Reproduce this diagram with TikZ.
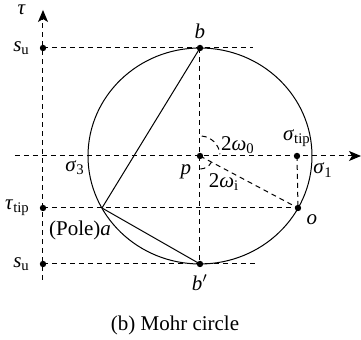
\documentclass[tikz,border=0pt]{standalone}
\usepackage{fontspec}
\setmainfont{Liberation Serif}
\usetikzlibrary{arrows.meta}

\tikzset{
  dot/.style={circle, fill, inner sep=0pt, minimum size=3.2pt},
  guide/.style={dash pattern=on 2.5pt off 2pt, line width=0.5pt},
  axisarrow/.style={guide, -{Stealth[length=6pt, width=5pt, inset=1.5pt]}}
}
\newcommand{\vi}[1]{\textit{#1}}

\begin{document}
\begin{tikzpicture}[x=0.5pt, y=0.5pt, line width=0.5pt, font=\fontsize{10.5}{12.6}\selectfont]
    \useasboundingbox (0,0) rectangle (361,340);

    % points of the Mohr circle
    \coordinate (p) at (200,184);
    \coordinate (b) at (200,292);
    \coordinate (bb) at (200,76);
    \coordinate (a) at (102,132);
    \coordinate (o) at (298,132);
    \coordinate (st) at (297,184);
    \coordinate (su1) at (43,292);
    \coordinate (su2) at (43,76);
    \coordinate (tt) at (43,132);

    % axes
    \coordinate (sl) at (15,184);
    \coordinate (sr) at (361,184);
    \coordinate (tb) at (43,60);
    \coordinate (tu) at (43,330);
    \draw[axisarrow] (sl) -- (sr);
    \draw[axisarrow] (tb) -- (tu);

    % guide lines
    \coordinate (bE) at (253,292);
    \coordinate (bbE) at (255,76);
    \draw[guide] (su1) -- (bE);
    \draw[guide] (su2) -- (bbE);
    \draw[guide] (tt) -- (o);
    \draw[guide] (b) -- (bb);
    \draw[guide] (st) -- (o);
    \draw[guide] (p) -- (o);
    \draw[guide] ([shift={(85:20)}]p) arc[start angle=85, end angle=5, radius=20];
    \draw[guide] ([shift={(-88:13)}]p) arc[start angle=-88, end angle=-30, radius=13];

    % circle and chords
    \draw (p) ellipse [x radius=112, y radius=108];
    \draw (a) -- (b);
    \draw (a) -- (bb);

    % dots
    \foreach \pt in {p, b, bb, o, st, su1, su2, tt}
        \node[dot] at (\pt) {};

    % labels
    \node[left=5pt] (tau) at (tu) {\vi{τ}};
    \node[left=3pt] (lsu1) at (su1) {\vi{s}\textsubscript{u}};
    \node[left=3pt] (lsu2) at (su2) {\vi{s}\textsubscript{u}};
    \node[left=3pt] (ltt) at (tt) {\vi{τ}\textsubscript{tip}};
    \node[above=1pt] (lb) at (b) {\vi{b}};
    \node[below=2pt] (lbb) at (bb) {\vi{b}$'$};
    \node (ls3) at (75,172) {\vi{σ}\textsubscript{3}};
    \node (lp) at (186,168) {\vi{p}};
    \node (lw0) at (238,195) {2\vi{ω}\textsubscript{0}};
    \node (lwi) at (224,158) {2\vi{ω}\textsubscript{i}};
    \node[above=1pt] (lst) at (st) {\vi{σ}\textsubscript{tip}};
    \node (ls1) at (323,170) {\vi{σ}\textsubscript{1}};
    \node (lo) at (312,120) {\vi{o}};
    \node (la) at (80,110) {(Pole)\vi{a}};
    \node (cap) at (175,15) {(b) Mohr circle};
\end{tikzpicture}
\end{document}
